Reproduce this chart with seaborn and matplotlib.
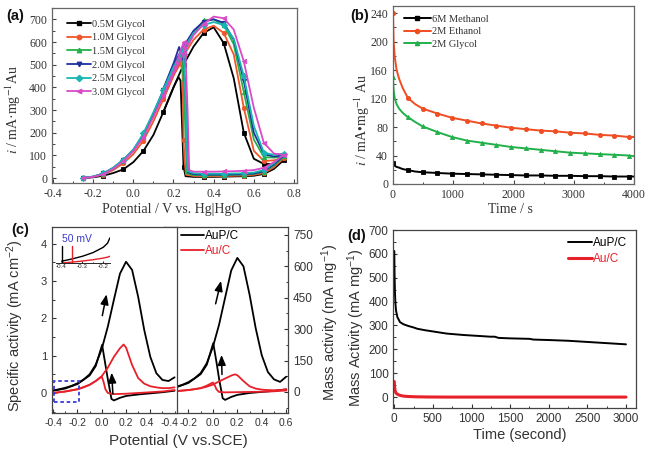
import numpy as np
import pandas as pd
import matplotlib
matplotlib.use("Agg")
import matplotlib.pyplot as plt
import seaborn as sns
from matplotlib.lines import Line2D
from matplotlib.patches import Rectangle
from matplotlib.ticker import MultipleLocator
from matplotlib.transforms import ScaledTranslation

# ---------------- data: panel (a) CVs of glycol ----------------
a_labels = ["0.5M Glycol", "1.0M Glycol", "1.5M Glycol", "2.0M Glycol", "2.5M Glycol", "3.0M Glycol"]
a_colors = ["#000000", "#f0562a", "#25b04a", "#1f2f9e", "#18b6b2", "#d94ac8"]
a_markers = ["s", "o", "^", "v", "D", "<"]

E_fwd = [-0.25, -0.2, -0.15, -0.1, -0.05, 0.0, 0.05, 0.1, 0.15, 0.2, 0.25, 0.3, 0.35, 0.4,
         0.45, 0.5, 0.55, 0.6, 0.65, 0.7, 0.75]
g05_fwd = [0, 3, 10, 22, 38, 70, 119, 190, 292, 400, 500, 580, 640, 665, 595, 440, 200, 85, 62, 62, 80]
g10_fwd = [0, 5, 15, 35, 65, 105, 165, 250, 350, 450, 540, 610, 655, 672, 640, 545, 310, 120, 75, 78, 88]
g15_fwd = [0, 6, 18, 40, 75, 120, 185, 275, 375, 470, 560, 640, 695, 700, 675, 590, 380, 170, 92, 90, 95]
g20_fwd = [0, 6, 20, 45, 80, 125, 190, 285, 390, 500, 580, 650, 690, 700, 685, 610, 430, 200, 105, 95, 100]
g25_fwd = [0, 7, 20, 45, 80, 125, 197, 290, 387, 480, 570, 640, 675, 688, 675, 615, 450, 230, 112, 102, 108]
g30_fwd = [0, 5, 17, 40, 75, 118, 180, 270, 365, 460, 550, 630, 680, 712, 705, 655, 515, 310, 155, 108, 102]

g05_bwd_E = [0.75, 0.7, 0.65, 0.6, 0.55, 0.5, 0.45, 0.4, 0.35, 0.3, 0.26, 0.25, 0.24, 0.235, 0.225, 0.2, 0.15]
g05_bwd = [80, 40, 18, 10, 8, 7, 6, 5, 5, 5, 8, 50, 300, 430, 445, 400, 292]
g10_bwd_E = [0.75, 0.7, 0.65, 0.6, 0.55, 0.5, 0.45, 0.4, 0.35, 0.3, 0.262, 0.255, 0.25, 0.245, 0.235, 0.2, 0.15]
g10_bwd = [88, 48, 22, 14, 11, 10, 9, 8, 8, 9, 15, 80, 167, 470, 505, 455, 350]
g15_bwd_E = [0.75, 0.7, 0.65, 0.6, 0.55, 0.5, 0.45, 0.4, 0.35, 0.3, 0.266, 0.258, 0.25, 0.24, 0.2, 0.15]
g15_bwd = [95, 55, 28, 18, 15, 14, 13, 12, 12, 13, 20, 240, 440, 535, 470, 375]
g20_bwd_E = [0.75, 0.7, 0.65, 0.6, 0.55, 0.5, 0.45, 0.4, 0.35, 0.3, 0.272, 0.264, 0.25, 0.228, 0.2, 0.15]
g20_bwd = [100, 60, 30, 20, 17, 16, 15, 15, 15, 17, 25, 300, 520, 578, 505, 395]
g25_bwd_E = [0.75, 0.7, 0.65, 0.6, 0.55, 0.5, 0.45, 0.4, 0.35, 0.3, 0.27, 0.261, 0.25, 0.242, 0.2, 0.15]
g25_bwd = [108, 65, 35, 24, 21, 20, 19, 19, 19, 21, 30, 320, 549, 560, 490, 390]
g30_bwd_E = [0.75, 0.7, 0.65, 0.6, 0.55, 0.5, 0.45, 0.4, 0.35, 0.3, 0.278, 0.27, 0.26, 0.25, 0.2, 0.15]
g30_bwd = [102, 70, 45, 35, 32, 30, 29, 28, 28, 28, 35, 300, 540, 598, 470, 365]

# ---------------- data: panel (b) chronoamperometry ----------------
b_labels = ["6M Methanol", "2M Ethanol", "2M Glycol"]
b_colors = ["#000000", "#f04d22", "#22b04a"]
b_markers = ["s", "o", "^"]
t_b = [0, 10, 30, 60, 100, 160, 245, 370, 490, 735, 980, 1225, 1470, 1715, 1960, 2205,
       2450, 2695, 2940, 3185, 3430, 3675, 3920, 4000]
methanol = [29, 27, 25.5, 24, 23, 21, 19.5, 17.5, 16.5, 15.5, 14.5, 14, 13.5, 13, 12.5, 12,
            12, 11.5, 11.5, 11, 11, 10.5, 10.5, 10.5]
ethanol = [240, 200, 178, 160, 148, 135, 121, 112, 106, 99, 93, 89, 85, 82, 79, 77,
           75, 74, 72, 71, 69, 68, 66, 66]
glycol = [150, 132, 120, 112, 106, 100, 94, 87, 81, 73, 66, 61, 58, 55, 52, 50,
          48, 46, 44, 43, 42, 41, 40, 39]

# ---------------- data: panel (c) CVs AuP/C vs Au/C ----------------
c_labels = ["AuP/C", "Au/C"]
c_colors = ["#000000", "#e8202a"]
c_E_f = [-0.4, -0.35, -0.3, -0.25, -0.2, -0.15, -0.1, -0.05, 0.0, 0.05, 0.1, 0.15, 0.2, 0.25,
         0.3, 0.35, 0.4, 0.45, 0.5, 0.55, 0.6]
aup_spec_f = [0.07, 0.10, 0.14, 0.19, 0.26, 0.36, 0.50, 0.76, 1.18, 1.78, 2.50, 3.20, 3.52, 3.30,
              2.58, 1.69, 0.97, 0.53, 0.35, 0.32, 0.42]
aup_mass_f = [12, 18, 25, 34, 47, 65, 90, 137, 215, 320, 450, 580, 640, 600,
              465, 305, 175, 95, 60, 48, 73]
c_E_b = [0.6, 0.5, 0.4, 0.3, 0.2, 0.15, 0.1, 0.08, 0.05, 0.03, 0.003, -0.05, -0.1, -0.2, -0.3, -0.4]
aup_spec_b = [0.06, 0.02, -0.01, -0.04, -0.08, -0.13, -0.2, -0.16, 0.37, 0.76, 1.29, 0.72, 0.47,
              0.24, 0.12, 0.06]
aup_mass_b = [12, 5, 0, -5, -14, -24, -38, -30, 65, 140, 233, 130, 85, 43, 22, 11]
au_E_f = [-0.4, -0.3, -0.2, -0.15, -0.1, -0.05, 0.0, 0.05, 0.1, 0.15, 0.18, 0.2, 0.25, 0.3, 0.35,
          0.4, 0.45, 0.5, 0.55, 0.6]
au_spec_f = [0.0, 0.04, 0.10, 0.15, 0.22, 0.32, 0.45, 0.68, 0.97, 1.20, 1.30, 1.22, 0.75, 0.40,
             0.25, 0.18, 0.15, 0.13, 0.13, 0.15]
au_mass_f = [0, 4, 9, 13, 18, 25, 35, 50, 64, 78, 84, 80, 52, 27, 16, 11, 9, 8, 9, 13]
au_E_b = [0.6, 0.5, 0.4, 0.3, 0.2, 0.1, 0.05, 0.03, 0.015, 0.0, -0.05, -0.1, -0.2, -0.3, -0.4]
au_spec_b = [0.08, 0.04, 0.02, 0.0, -0.02, -0.03, 0.0, 0.1, 0.3, 0.44, 0.32, 0.22, 0.1, 0.04, 0.0]
au_mass_b = [7, 3, 1, 0, -1, -2, 0, 12, 32, 45, 30, 18, 9, 4, 1]
# inset (onset region)
ins_E = [-0.4, -0.35, -0.3, -0.25, -0.2, -0.18, -0.168]
ins_aup = [0.02, 0.045, 0.075, 0.115, 0.175, 0.22, 0.28]
ins_au = [0.0, 0.01, 0.022, 0.036, 0.055, 0.065, 0.075]
onset_aup = -0.40
onset_au = -0.35

# ---------------- data: panel (d) chronoamperometry ----------------
t_d = [0, 3, 8, 15, 22, 40, 74, 120, 180, 247, 300, 334, 400, 500, 680, 900, 1100, 1242,
       1300, 1350, 1500, 1750, 1800, 2000, 2250, 2500, 2750, 3000]
d_aup = [612, 520, 440, 390, 363, 335, 314, 305, 298, 292, 286, 284, 280, 275, 266, 260, 256, 253,
         253, 248, 246, 244, 241, 239, 236, 231, 226, 221]
d_au = [65, 45, 30, 22, 17, 12, 7, 4, 2.5, 1.5, 1, 1, 0.5, 0.3, 0, 0, 0, 0,
        0, 0, 0, 0, 0, 0, 0, 0, 0, 0]

# ---------------- style ----------------
sns.set_theme(style="ticks")
plt.rcParams.update({
    "font.family": ["Liberation Sans", "DejaVu Sans"],
    "xtick.direction": "in", "ytick.direction": "in",
    "xtick.major.size": 3.0, "ytick.major.size": 3.0,
    "xtick.minor.size": 1.8, "ytick.minor.size": 1.8,
    "xtick.major.width": 0.8, "ytick.major.width": 0.8,
    "xtick.minor.width": 0.7, "ytick.minor.width": 0.7,
    "axes.linewidth": 0.9,
    "mathtext.fontset": "custom",
    "mathtext.rm": "Liberation Sans",
    "mathtext.it": "Liberation Sans:italic",
    "mathtext.bf": "Liberation Sans:bold",
})
SERIF = "Liberation Serif"
SANS = "Liberation Sans"

W, H = 648, 455
fig = plt.figure(figsize=(W / 100, H / 100), dpi=100)
fig.patch.set_facecolor("white")


def add_axes_px(l, t, r, b, **kw):
    return fig.add_axes([l / W, 1 - b / H, (r - l) / W, (b - t) / H], **kw)


def cv_line(ax, x, y, color, lw, marker=None, mev=None, ms=3.5):
    kws = dict(sort=False, estimator=None, color=color, lw=lw, ax=ax, legend=False)
    if marker is not None:
        kws.update(marker=marker, markevery=mev, markersize=ms,
                   markeredgecolor=color, markerfacecolor=color, markeredgewidth=0.6)
    sns.lineplot(x=x, y=y, **kws)


def mark_idx(xs, targets):
    return [i for i, v in enumerate(xs) if any(abs(v - t) < 1e-6 for t in targets)]


# ================= panel (a) =================
axA = add_axes_px(52, 8, 297, 183)
fwd_sets = [g05_fwd, g10_fwd, g15_fwd, g20_fwd, g25_fwd, g30_fwd]
bwd_sets = [(g05_bwd_E, g05_bwd), (g10_bwd_E, g10_bwd), (g15_bwd_E, g15_bwd),
            (g20_bwd_E, g20_bwd), (g25_bwd_E, g25_bwd), (g30_bwd_E, g30_bwd)]
fwd_marks = [-0.25, -0.15, -0.05, 0.05, 0.15, 0.25, 0.35, 0.45, 0.55, 0.65, 0.75]
bwd_marks = [0.65, 0.55, 0.45, 0.35, 0.25]
for fw, (bE, bI), c, m in zip(fwd_sets, bwd_sets, a_colors, a_markers):
    cv_line(axA, E_fwd, fw, c, 1.3, m, mark_idx(E_fwd, fwd_marks), 3.2)
    cv_line(axA, bE, bI, c, 1.3, m, mark_idx(bE, bwd_marks), 3.2)
axA.set_xlim(-0.405, 0.815)
axA.set_ylim(-22, 750)
axA.xaxis.set_minor_locator(MultipleLocator(0.1))
axA.yaxis.set_major_locator(MultipleLocator(100))
axA.yaxis.set_minor_locator(MultipleLocator(50))
axA.set_xticks([-0.4, -0.2, 0.0, 0.2, 0.4, 0.6, 0.8])
axA.set_xticklabels(["-0.4", "-0.2", "0.0", "0.2", "0.4", "0.6", "0.8"])
axA.tick_params(labelsize=8.5, labelfontfamily=SERIF, colors="#444444", labelcolor="#333333",
                which="both", top=False, right=False)
for s in axA.spines.values():
    s.set_color("#666666")
axA.set_xlabel("Potential / V vs. Hg|HgO", fontsize=10, fontfamily=SERIF, color="#333333")
axA.set_ylabel(r"$i$ / mA·mg$^{-1}$Au", fontsize=10, fontfamily=SERIF, color="#333333",
               math_fontfamily="stix")
axA.xaxis.set_label_coords(0.49, -0.112)
axA.yaxis.set_label_coords(-0.118, 0.42)
hA = [Line2D([0], [0], color=c, lw=1.3, marker=m, ms=3.2, mec=c, mfc=c) for c, m in zip(a_colors, a_markers)]
axA.legend(hA, a_labels, loc="upper left", bbox_to_anchor=(0.06, 0.935), frameon=False,
           prop={"family": SERIF, "size": 7.5}, handlelength=2.3, handletextpad=0.15,
           labelspacing=0.42, borderaxespad=0.0, borderpad=0.0, labelcolor="#333333")

# ================= panel (b) =================
axB = add_axes_px(393, 6, 634, 184)
b_sets = [methanol, ethanol, glycol]
t_marks = [0, 245, 490, 735, 980, 1225, 1470, 1715, 1960, 2205, 2450, 2695, 2940, 3185, 3430, 3675, 3920]
for y, c, m in zip(b_sets, b_colors, b_markers):
    cv_line(axB, t_b, y, c, 1.4, m, mark_idx(t_b, t_marks), 3.0)
axB.set_xlim(0, 4000)
axB.set_ylim(0, 250)
axB.xaxis.set_major_locator(MultipleLocator(1000))
axB.xaxis.set_minor_locator(MultipleLocator(500))
axB.yaxis.set_major_locator(MultipleLocator(40))
axB.yaxis.set_minor_locator(MultipleLocator(20))
axB.tick_params(labelsize=8.5, labelfontfamily=SERIF, colors="#444444", labelcolor="#333333",
                which="both", top=False, right=False)
for s in axB.spines.values():
    s.set_color("#666666")
axB.set_xlabel("Time / s", fontsize=10, fontfamily=SERIF, color="#333333")
axB.set_ylabel(r"$i$ / mA•mg$^{-1}$ Au", fontsize=10, fontfamily=SERIF, color="#333333",
               math_fontfamily="stix")
axB.xaxis.set_label_coords(0.486, -0.108)
axB.yaxis.set_label_coords(-0.088, 0.36)
hB = [Line2D([0], [0], color=c, lw=1.4, marker=m, ms=3.0, mec=c, mfc=c) for c, m in zip(b_colors, b_markers)]
axB.legend(hB, b_labels, loc="upper left", bbox_to_anchor=(0.045, 0.952), frameon=False,
           prop={"family": SERIF, "size": 7.5}, handlelength=2.6, handletextpad=0.15,
           labelspacing=0.3, borderaxespad=0.0, borderpad=0.0, labelcolor="#333333")

# ================= panel (c) =================
axCR = add_axes_px(164, 226.7, 288.3, 413.3, zorder=1)
axCL = add_axes_px(52, 226.7, 177, 413.3, zorder=3)
axCL.set_facecolor("white")

cv_line(axCL, c_E_f, aup_spec_f, c_colors[0], 1.3)
cv_line(axCL, c_E_b, aup_spec_b, c_colors[0], 1.3)
cv_line(axCL, au_E_f, au_spec_f, c_colors[1], 1.3)
cv_line(axCL, au_E_b, au_spec_b, c_colors[1], 1.3)
axCL.set_xlim(-0.41, 0.62)
axCL.set_ylim(-0.545, 4.46)
axCL.set_xticks([-0.4, -0.2, 0.0, 0.2, 0.4])
axCL.set_xticklabels(["-0.4", "-0.2", "0.0", "0.2", "0.4"])
axCL.xaxis.set_minor_locator(MultipleLocator(0.1))
axCL.yaxis.set_major_locator(MultipleLocator(1))
axCL.yaxis.set_minor_locator(MultipleLocator(0.5))
axCL.tick_params(labelsize=8, which="both", top=False, right=False, colors="#333333")
axCL.tick_params(axis="x", labelsize=7.5)
axCL.set_ylabel("Specific activity (mA cm$^{-2}$)", fontsize=10.5, color="#333333")
axCL.yaxis.set_label_coords(-0.205, 0.47)
for s in axCL.spines.values():
    s.set_color("#444444")
axCL.add_patch(Rectangle((-0.39, -0.24), 0.2, 0.56, fill=False, edgecolor="#3a3adf",
                         lw=1.3, ls=(0, (2, 1.5)), zorder=5))
axCL.annotate("", xy=(0.044, 2.72), xytext=(0.0, 2.0),
              arrowprops=dict(arrowstyle="-|>,head_length=0.5,head_width=0.2", color="black", lw=1.1))
axCL.annotate("", xy=(0.08, 0.62), xytext=(0.093, -0.1),
              arrowprops=dict(arrowstyle="-|>,head_length=0.5,head_width=0.2", color="black", lw=1.1))

cv_line(axCR, c_E_f, aup_mass_f, c_colors[0], 1.3)
cv_line(axCR, c_E_b, aup_mass_b, c_colors[0], 1.3)
cv_line(axCR, au_E_f, au_mass_f, c_colors[1], 1.3)
cv_line(axCR, au_E_b, au_mass_b, c_colors[1], 1.3)
axCR.set_xlim(-0.4, 0.617)
axCR.set_ylim(-102, 789)
axCR.set_xticks([-0.4, -0.2, 0.0, 0.2, 0.4, 0.6])
axCR.set_xticklabels(["-0.4", "-0.2", "0.0", "0.2", "0.4", "0.6"])
axCR.xaxis.set_minor_locator(MultipleLocator(0.1))
axCR.yaxis.set_major_locator(MultipleLocator(150))
axCR.yaxis.set_minor_locator(MultipleLocator(75))
axCR.yaxis.tick_right()
axCR.tick_params(labelsize=7.5, which="both", top=False, left=False, right=True, colors="#333333")
axCR.tick_params(axis="y", labelsize=8.5)
for s in axCR.spines.values():
    s.set_color("#444444")
# the two panels' boundary labels ("0.4" and "-0.4") sit side by side, as in the original
lab_r = axCR.xaxis.get_majorticklabels()[0]
lab_r.set_transform(lab_r.get_transform() + ScaledTranslation(5 / 100, 0, fig.dpi_scale_trans))
lab_l = axCL.xaxis.get_majorticklabels()[-1]
lab_l.set_transform(lab_l.get_transform() + ScaledTranslation(-3 / 100, 0, fig.dpi_scale_trans))
axCR.annotate("", xy=(0.072, 543), xytext=(0.017, 408),
              arrowprops=dict(arrowstyle="-|>,head_length=0.5,head_width=0.2", color="black", lw=1.1))
axCR.annotate("", xy=(0.07, 190), xytext=(0.075, 70),
              arrowprops=dict(arrowstyle="-|>,head_length=0.5,head_width=0.2", color="black", lw=1.1))
hC = [Line2D([0], [0], color=c, lw=1.3) for c in c_colors]
legC = axCR.legend(hC, c_labels, loc="upper left", bbox_to_anchor=(0.14, 0.98), frameon=False,
                   prop={"size": 8.5}, handlelength=1.9, handletextpad=0.1, labelspacing=0.25,
                   borderaxespad=0.0, borderpad=0.0)
for txt, c in zip(legC.get_texts(), c_colors):
    txt.set_color(c)

fig.text(178 / W, 1 - 441 / H, "Potential (V vs.SCE)", ha="center", va="center", fontsize=11,
         color="#333333")
fig.text(330 / W, 1 - 322 / H, "Mass activity (mA mg$^{-1}$)", ha="center", va="center",
         rotation=90, fontsize=10.5, color="#333333")

# inset
axIn = add_axes_px(56, 236, 110, 263, zorder=6)
axIn.set_facecolor("none")
cv_line(axIn, ins_E, ins_aup, c_colors[0], 1.0)
cv_line(axIn, ins_E, ins_au, c_colors[1], 1.0)
axIn.axvline(onset_aup, ymin=0, ymax=0.62, color=c_colors[0], lw=1.0)
axIn.axvline(onset_au, ymin=0, ymax=0.62, color=c_colors[1], lw=1.0)
axIn.set_xlim(-0.427, -0.168)
axIn.set_ylim(0, 0.3)
axIn.set_xticks([-0.4, -0.3, -0.2])
axIn.set_xticklabels(["-0.4", "-0.3", "-0.2"])
axIn.xaxis.set_minor_locator(MultipleLocator(0.05))
axIn.set_yticks([])
for side in ["left", "top", "right"]:
    axIn.spines[side].set_visible(False)
axIn.spines["bottom"].set_linewidth(0.7)
axIn.tick_params(labelsize=4.5, pad=1, length=1.5, which="major")
axIn.tick_params(length=1.0, which="minor")
fig.text(62 / W, 1 - 239 / H, "50 mV", ha="left", va="center", fontsize=7.5, color="#3a3ad0",
         zorder=7)

# ================= panel (d) =================
axD = add_axes_px(393.3, 230, 636, 408.3)
cv_line(axD, t_d, d_aup, c_colors[0], 1.4)
cv_line(axD, t_d, d_au, c_colors[1], 2.2)
axD.set_xlim(-13, 3130)
axD.set_ylim(-47, 700)
axD.xaxis.set_major_locator(MultipleLocator(500))
axD.xaxis.set_minor_locator(MultipleLocator(250))
axD.yaxis.set_major_locator(MultipleLocator(100))
axD.yaxis.set_minor_locator(MultipleLocator(50))
axD.tick_params(labelsize=8.5, which="both", top=False, right=False, colors="#333333")
for s in axD.spines.values():
    s.set_color("#444444")
axD.set_xlabel("Time (second)", fontsize=10.5, color="#333333")
axD.set_ylabel("Mass Activity (mA mg$^{-1}$)", fontsize=10.5, color="#333333")
axD.xaxis.set_label_coords(0.52, -0.108)
axD.yaxis.set_label_coords(-0.11, 0.45)
hD = [Line2D([0], [0], color=c_colors[0], lw=1.4), Line2D([0], [0], color=c_colors[1], lw=2.2)]
legD = axD.legend(hD, c_labels, loc="upper left", bbox_to_anchor=(0.72, 0.96), frameon=False,
                  prop={"size": 8.5}, handlelength=2.0, handletextpad=0.1, labelspacing=0.3,
                  borderaxespad=0.0, borderpad=0.0)
for txt, c in zip(legD.get_texts(), c_colors):
    txt.set_color(c)

# panel labels
for lab, x, y in [("(a)", 15, 16), ("(b)", 360, 16), ("(c)", 20, 230), ("(d)", 357, 236)]:
    fig.text(x / W, 1 - y / H, lab, ha="center", va="center", fontsize=10.5, fontweight="bold",
             color="#111111")

fig.savefig("out.png", dpi=100, facecolor="white")
